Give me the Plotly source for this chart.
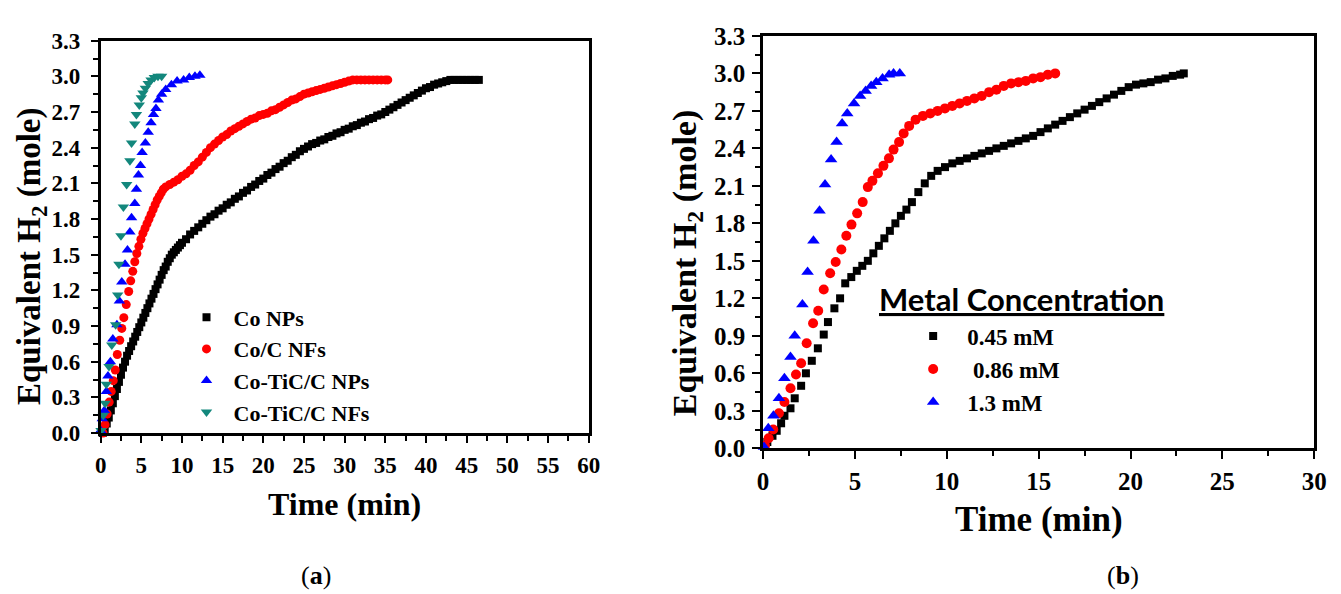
import plotly.graph_objects as go

# ---------------- (a) hydrogen release for the four catalysts ----------------
t_co_nps = [0.25, 0.5, 0.75, 1.0, 1.25, 1.5, 1.75, 2.0, 2.25, 2.5, 2.75, 3.0, 3.25, 3.5, 3.75,
            4.0, 4.25, 4.5, 4.75, 5.0, 5.25, 5.5, 5.75, 6.0, 6.25, 6.5, 6.75, 7.0, 7.25, 7.5,
            7.75, 8.0, 8.25, 8.5, 8.75, 9.0, 9.25, 9.5, 9.75, 10.0, 10.5, 11.0, 11.5, 12.0,
            12.5, 13.0, 13.5, 14.0, 14.5, 15.0, 15.5, 16.0, 16.5, 17.0, 17.5, 18.0, 18.5,
            19.0, 19.5, 20.0, 20.5, 21.0, 21.5, 22.0, 22.5, 23.0, 23.5, 24.0, 24.5, 25.0,
            25.5, 26.0, 26.5, 27.0, 27.5, 28.0, 28.5, 29.0, 29.5, 30.0, 30.5, 31.0, 31.5,
            32.0, 32.5, 33.0, 33.5, 34.0, 34.5, 35.0, 35.5, 36.0, 36.5, 37.0, 37.5, 38.0,
            38.5, 39.0, 39.5, 40.0, 40.5, 41.0, 41.5, 42.0, 42.5, 43.0, 43.5, 44.0, 44.5,
            45.0, 45.5, 46.0, 46.5]
h2_co_nps = [0.00, 0.03, 0.08, 0.13, 0.19, 0.25, 0.31, 0.37, 0.43, 0.49, 0.55, 0.60, 0.65, 0.69, 0.73,
             0.77, 0.81, 0.85, 0.89, 0.93, 0.97, 1.01, 1.05, 1.09, 1.13, 1.17, 1.21, 1.25, 1.29, 1.33,
             1.37, 1.40, 1.44, 1.47, 1.50, 1.52, 1.54, 1.56, 1.58, 1.60, 1.63, 1.67, 1.70, 1.73,
             1.76, 1.79, 1.82, 1.84, 1.87, 1.89, 1.92, 1.94, 1.97, 1.99, 2.02, 2.04, 2.07,
             2.09, 2.12, 2.14, 2.17, 2.19, 2.22, 2.24, 2.27, 2.29, 2.32, 2.34, 2.37, 2.39,
             2.41, 2.43, 2.44, 2.46, 2.47, 2.49, 2.50, 2.52, 2.53, 2.55, 2.56, 2.58, 2.59,
             2.61, 2.62, 2.64, 2.65, 2.67, 2.68, 2.70, 2.72, 2.74, 2.76, 2.78, 2.80, 2.82,
             2.84, 2.86, 2.88, 2.90, 2.91, 2.93, 2.94, 2.95, 2.96, 2.97, 2.97, 2.97, 2.97,
             2.97, 2.97, 2.97, 2.97]

t_coc_nfs = [0.3, 0.55, 0.8, 1.05, 1.3, 1.55, 1.8, 2.05, 2.35, 2.6, 2.85, 3.15, 3.45, 3.7, 3.95,
             4.2, 4.45, 4.7, 4.95, 5.2, 5.45, 5.7, 5.95, 6.2, 6.45, 6.7, 6.95, 7.2, 7.45, 7.7,
             8.0, 8.5, 9.0, 9.5, 10.0, 10.5, 11.0, 11.5, 12.0, 12.5, 13.0, 13.5, 14.0, 14.5,
             15.0, 15.5, 16.0, 16.5, 17.0, 17.5, 18.0, 18.5, 19.0, 19.5, 20.0, 20.5, 21.0,
             21.5, 22.0, 22.5, 23.0, 23.5, 24.0, 24.5, 25.0, 25.5, 26.0, 26.5, 27.0, 27.5,
             28.0, 28.5, 29.0, 29.5, 30.0, 30.5, 31.0, 31.5, 32.0, 32.5, 33.0, 33.5, 34.0,
             34.5, 35.0, 35.3]
h2_coc_nfs = [0.00, 0.07, 0.16, 0.26, 0.35, 0.44, 0.53, 0.66, 0.78, 0.88, 0.97, 1.08, 1.19, 1.28, 1.36,
              1.44, 1.51, 1.57, 1.63, 1.68, 1.72, 1.76, 1.80, 1.84, 1.88, 1.92, 1.96, 1.99, 2.02, 2.05,
              2.07, 2.09, 2.11, 2.13, 2.16, 2.18, 2.21, 2.25, 2.28, 2.32, 2.36, 2.40, 2.43, 2.46,
              2.49, 2.51, 2.54, 2.56, 2.58, 2.60, 2.62, 2.64, 2.65, 2.67, 2.68, 2.69, 2.71,
              2.72, 2.74, 2.76, 2.78, 2.80, 2.81, 2.83, 2.85, 2.86, 2.87, 2.88, 2.89, 2.90,
              2.91, 2.92, 2.93, 2.94, 2.95, 2.96, 2.97, 2.97, 2.97, 2.97, 2.97, 2.97, 2.97,
              2.97, 2.97, 2.97]

t_cotic_nps = [0.0, 0.2, 0.46, 0.7, 0.9, 1.2, 1.5, 2.0, 2.3, 2.6, 3.0, 3.3, 3.6, 3.8, 4.2, 4.4,
               4.65, 4.9, 5.1, 5.5, 5.85, 6.2, 6.5, 6.8, 7.1, 7.5, 8.0, 8.7, 9.4, 10.2, 10.9,
               11.6, 12.2]
h2_cotic_nps = [0.02, 0.12, 0.19, 0.35, 0.48, 0.60, 0.79, 0.91, 1.11, 1.27, 1.42, 1.54, 1.69, 1.81,
                1.93, 2.05, 2.17, 2.25, 2.36, 2.44, 2.53, 2.61, 2.68, 2.73, 2.80, 2.85, 2.89, 2.93,
                2.96, 2.97, 2.99, 3.00, 3.01]

t_cotic_nfs = [0.05, 0.32, 0.56, 0.7, 1.03, 1.37, 1.85, 2.1, 2.25, 2.5, 2.8, 3.2, 3.6, 3.8, 4.2,
               4.4, 4.75, 5.0, 5.2, 5.5, 5.85, 6.2, 6.6, 7.05, 7.5]
h2_cotic_nfs = [0.02, 0.15, 0.25, 0.41, 0.56, 0.74, 0.91, 1.16, 1.42, 1.66, 1.90, 2.09, 2.29, 2.44,
                2.60, 2.68, 2.76, 2.82, 2.86, 2.90, 2.94, 2.97, 2.99, 3.00, 3.00]

# ---------------- (b) effect of the metal concentration ----------------
t_045 = [0.23, 0.51, 0.74, 0.98, 1.16, 1.49, 1.72, 2.07, 2.33, 2.65, 2.98, 3.3, 3.53, 3.88, 4.19,
         4.47, 4.8, 5.1, 5.4, 5.7, 6.0, 6.3, 6.6, 6.9, 7.2, 7.5, 7.8, 8.1, 8.45, 8.8, 9.15, 9.5,
         9.9, 10.3, 10.7, 11.1, 11.5, 11.9, 12.3, 12.7, 13.1, 13.5, 13.9, 14.3, 14.7, 15.1,
         15.5, 15.9, 16.3, 16.7, 17.1, 17.5, 17.9, 18.3, 18.7, 19.1, 19.5, 19.9, 20.3, 20.7,
         21.1, 21.5, 21.9, 22.3, 22.7, 22.9]
h2_045 = [0.05, 0.10, 0.14, 0.20, 0.26, 0.32, 0.40, 0.50, 0.60, 0.70, 0.80, 0.91, 1.01, 1.12, 1.20,
          1.32, 1.37, 1.42, 1.46, 1.50, 1.56, 1.62, 1.68, 1.74, 1.80, 1.86, 1.91, 1.97, 2.05, 2.12,
          2.18, 2.22, 2.25, 2.28, 2.30, 2.32, 2.34, 2.36, 2.38, 2.40, 2.42, 2.44, 2.46, 2.48,
          2.50, 2.53, 2.56, 2.59, 2.62, 2.65, 2.68, 2.71, 2.74, 2.77, 2.80, 2.83, 2.86, 2.89,
          2.91, 2.92, 2.93, 2.95, 2.96, 2.98, 2.99, 3.00]

t_086 = [0.1, 0.3, 0.55, 0.86, 1.16, 1.49, 1.79, 2.07, 2.37, 2.72, 3.0, 3.3, 3.65, 3.95, 4.26,
         4.53, 4.81, 5.12, 5.42, 5.7, 5.95, 6.25, 6.55, 6.85, 7.1, 7.4, 7.65, 7.95, 8.3, 8.7,
         9.1, 9.5, 9.9, 10.3, 10.7, 11.1, 11.5, 11.9, 12.3, 12.7, 13.1, 13.5, 13.9, 14.3,
         14.7, 15.1, 15.5, 15.9]
h2_086 = [0.02, 0.08, 0.15, 0.28, 0.37, 0.48, 0.59, 0.68, 0.84, 1.00, 1.10, 1.27, 1.40, 1.49, 1.59,
          1.70, 1.79, 1.88, 1.97, 2.09, 2.14, 2.20, 2.26, 2.32, 2.39, 2.45, 2.52, 2.58, 2.63, 2.66,
          2.68, 2.70, 2.72, 2.74, 2.76, 2.78, 2.80, 2.82, 2.85, 2.87, 2.90, 2.92, 2.93, 2.94,
          2.96, 2.97, 2.99, 3.00]

t_13 = [0.05, 0.28, 0.56, 0.86, 1.16, 1.49, 1.72, 2.14, 2.42, 2.74, 3.07, 3.37, 3.7, 4.0, 4.3,
        4.58, 4.95, 5.28, 5.58, 5.88, 6.16, 6.5, 6.86, 7.1, 7.44]
h2_13 = [0.01, 0.16, 0.26, 0.40, 0.56, 0.73, 0.90, 1.15, 1.41, 1.66, 1.90, 2.11, 2.31, 2.45, 2.60,
         2.68, 2.76, 2.82, 2.86, 2.90, 2.93, 2.96, 2.99, 3.00, 3.00]

W, H = 1341, 594
SERIF = "Liberation Serif, Times New Roman, serif"
SANS = "Lato, Open Sans, sans-serif"
TEAL = "#13877c"

fig = go.Figure()

def markers(x, y, name, symbol, size, color, xa, ya, legend):
    fig.add_trace(go.Scatter(
        x=x, y=y, name=name, mode="markers", xaxis=xa, yaxis=ya, legend=legend,
        cliponaxis=False,
        marker=dict(symbol=symbol, size=size, color=color, line=dict(width=0)),
    ))

markers(t_co_nps, h2_co_nps, "Co NPs", "square", 8, "black", "x", "y", "legend")
markers(t_coc_nfs, h2_coc_nfs, "Co/C NFs", "circle", 9, "#ff0000", "x", "y", "legend")
markers(t_cotic_nps, h2_cotic_nps, "Co-TiC/C NPs", "triangle-up", 10, "#0000ff", "x", "y", "legend")
markers(t_cotic_nfs, h2_cotic_nfs, "Co-TiC/C NFs", "triangle-down", 10, TEAL, "x", "y", "legend")

markers(t_045, h2_045, "0.45 mM", "square", 8, "black", "x2", "y2", "legend2")
markers(t_086, h2_086, "\u00a00.86 mM", "circle", 10, "#ff0000", "x2", "y2", "legend2")
markers(t_13, h2_13, "1.3 mM", "triangle-up", 11, "#0000ff", "x2", "y2", "legend2")


def frame(domain, rng, dtick, minor_dtick, fmt, anchor, fsize, ticklen, standoff):
    return dict(
        domain=domain, range=rng, tick0=0, dtick=dtick, tickformat=fmt, anchor=anchor,
        showline=True, linecolor="black", linewidth=2.5, mirror=True,
        ticks="outside", ticklen=ticklen, tickwidth=2, tickcolor="black",
        ticklabelstandoff=standoff,
        minor=dict(ticks="outside", dtick=minor_dtick, ticklen=5, tickwidth=2,
                   tickcolor="black", showgrid=False),
        showgrid=False, zeroline=False,
        tickfont=dict(family=SERIF, size=fsize, color="black", weight="bold"),
    )


def label(text, x, y, size, angle=0, family=SERIF, weight="bold", **font_extra):
    return dict(text=text, x=x / W, y=1 - y / H, xref="paper", yref="paper",
                xanchor="center", yanchor="middle", showarrow=False, textangle=angle,
                font=dict(family=family, size=size, color="black", weight=weight, **font_extra))


ytitle = "Equivalent H<sub>2</sub> (mole)"
fig.update_layout(
    width=W, height=H, margin=dict(l=0, r=0, t=0, b=0),
    paper_bgcolor="white", plot_bgcolor="white",
    xaxis=frame([96 / W, 591 / W], [0, 60], 5, 2.5, "d", "y", 23, 7, 3),
    yaxis=frame([1 - 440 / H, 1 - 29 / H], [0, 3.3], 0.3, 0.15, ".1f", "x", 23, 7, 6),
    xaxis2=frame([768 / W, 1327 / W], [0, 30], 5, 2.5, "d", "y2", 25, 8, 1),
    yaxis2=frame([1 - 456 / H, 1 - 24 / H], [0, 3.3], 0.3, 0.15, ".1f", "x2", 25, 8, 2),
    legend=dict(x=176 / W, y=1 - 297 / H, xanchor="left", yanchor="top",
                bgcolor="rgba(0,0,0,0)", borderwidth=0, itemwidth=44,
                font=dict(family=SERIF, size=22, color="black", weight="bold")),
    legend2=dict(x=906 / W, y=1 - 316 / H, xanchor="left", yanchor="top",
                 bgcolor="rgba(0,0,0,0)", borderwidth=0, itemwidth=58,
                 font=dict(family=SERIF, size=23, color="black", weight="bold")),
    annotations=[
        label(ytitle, 26, 255, 33, angle=-90),
        label("Time (min)", 343, 514, 32),
        label(ytitle, 691, 262, 34, angle=-90),
        label("Time (min)", 1048, 531, 35),
        dict(label("Metal Concentration", 884, 300, 31, family=SANS, lineposition="under"),
             xanchor="left"),
        label("(<b>a</b>)", 314, 589, 26, weight="normal"),
        label("(<b>b</b>)", 1133, 589, 26, weight="normal"),
    ],
)

fig.write_html("out.html")
